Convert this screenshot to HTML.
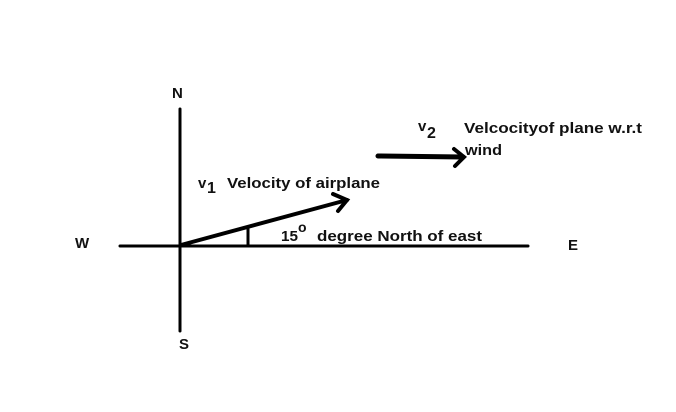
<!DOCTYPE html>
<html><head><meta charset="utf-8"><style>
html,body{margin:0;padding:0;background:#fff;}
svg{display:block}
text{font-family:"Liberation Sans",sans-serif;font-weight:600;fill:#111;}
</style></head><body>
<svg width="676" height="412" viewBox="0 0 676 412">
<rect width="676" height="412" fill="#fff"/>
<g stroke="#000" fill="none" stroke-linecap="round">
<line x1="180" y1="109" x2="180" y2="331" stroke-width="3"/>
<line x1="120" y1="246" x2="528" y2="246" stroke-width="3"/>
<line x1="181" y1="245" x2="347" y2="200" stroke-width="4"/>
<polyline points="333,194 347,200 338,211" stroke-width="4"/>
<line x1="248" y1="228" x2="248" y2="245" stroke-width="3"/>
<line x1="378" y1="156" x2="463" y2="157" stroke-width="5"/>
<polyline points="454,149 464,157 455,166" stroke-width="4"/>
</g>
<text x="172" y="98" font-size="15">N</text>
<text x="75" y="248" font-size="15">W</text>
<text x="568" y="250" font-size="15">E</text>
<text x="179" y="349" font-size="15">S</text>
<text x="418" y="131" font-size="15">v</text>
<text x="427" y="138" font-size="16">2</text>
<text x="464" y="133" font-size="15" textLength="178" lengthAdjust="spacingAndGlyphs">Velcocityof plane w.r.t</text>
<text x="465" y="155" font-size="15" textLength="37" lengthAdjust="spacingAndGlyphs">wind</text>
<text x="198" y="188" font-size="15">v</text>
<text x="207" y="193" font-size="16">1</text>
<text x="227" y="188" font-size="15" textLength="153" lengthAdjust="spacingAndGlyphs">Velocity of airplane</text>
<text x="281" y="241" font-size="15" textLength="17" lengthAdjust="spacingAndGlyphs">15</text>
<text x="298" y="232" font-size="14">o</text>
<text x="317" y="241" font-size="15" textLength="165" lengthAdjust="spacingAndGlyphs">degree North of east</text>
</svg>
</body></html>
